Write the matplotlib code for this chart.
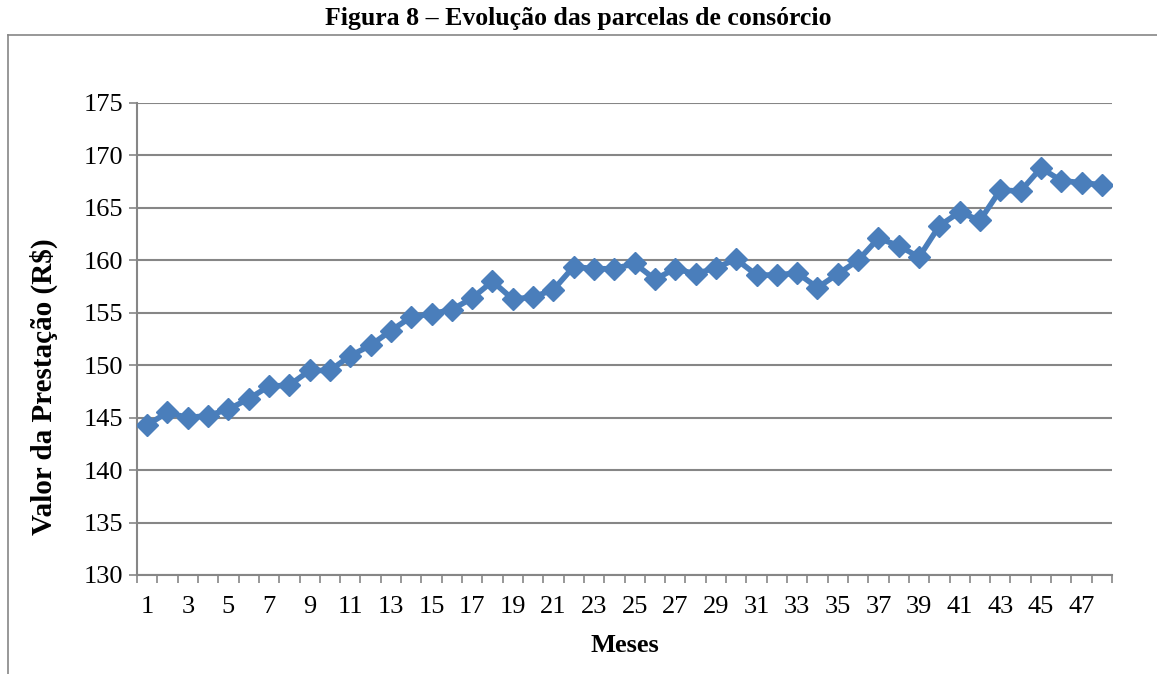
import matplotlib
matplotlib.use('Agg')
import matplotlib.pyplot as plt
from matplotlib.lines import Line2D
from matplotlib.ticker import MultipleLocator, FixedLocator

# dados
meses = list(range(1, 49))
valores = [144.3, 145.5, 145.0, 145.2, 145.8, 146.8, 148.0, 148.1, 149.5, 149.5,
           150.9, 151.9, 153.3, 154.6, 154.9, 155.3, 156.4, 158.0, 156.3, 156.5,
           157.2, 159.4, 159.2, 159.2, 159.7, 158.2, 159.2, 158.7, 159.3, 160.1,
           158.6, 158.6, 158.8, 157.4, 158.7, 160.0, 162.1, 161.4, 160.3, 163.3,
           164.6, 163.8, 166.7, 166.6, 168.8, 167.6, 167.4, 167.2]
rotulos_x = [str(m) for m in meses[::2]]

plt.rcParams['font.family'] = ['Liberation Serif', 'DejaVu Serif']

fig = plt.figure(figsize=(11.57, 6.74), dpi=100, facecolor='w')
ax = fig.add_axes([137/1157, 1-575/674, (1112-137)/1157, (575-103)/674])

cinza = '#868686'
ax.plot(meses, valores, color='#4A7EBB', lw=4, marker='D', ms=11,
        markerfacecolor='#4A7EBB', markeredgecolor='#4A7EBB', zorder=3)

ax.set_xlim(0.5, 48.5)
ax.set_ylim(130, 175)
ax.yaxis.set_major_locator(MultipleLocator(5))
ax.grid(axis='y', color=cinza, lw=1.5)
ax.set_axisbelow(True)

ax.set_xticks(meses[::2])
ax.set_xticklabels(rotulos_x)
ax.xaxis.set_minor_locator(FixedLocator([m + 0.5 for m in range(0, 49)]))
ax.tick_params(axis='x', which='major', length=0, labelsize=19, pad=15)
ax.tick_params(axis='x', which='minor', length=6, width=1.2, color=cinza, direction='out')
ax.tick_params(axis='y', length=6, width=1.2, color=cinza, labelsize=19, pad=4)

for s in ['top', 'right']:
    ax.spines[s].set_visible(False)
for s in ['left', 'bottom']:
    ax.spines[s].set_color(cinza)
    ax.spines[s].set_linewidth(1.5)

ax.set_ylabel('Valor da Prestação (R$)', fontsize=21, fontweight='bold')
ax.yaxis.set_label_coords(-0.081, 0.40)
ax.set_xlabel('Meses', fontsize=19, fontweight='bold', labelpad=12)

fig.text(0.5, 1-18/674, 'Figura 8 – Evolução das parcelas de consórcio',
         ha='center', va='center', fontsize=18.5, fontweight='bold')

# moldura
fig.add_artist(Line2D([8/1157, 8/1157], [0, 1-35/674], color=cinza, lw=1.2))
fig.add_artist(Line2D([8/1157, 1], [1-35/674, 1-35/674], color=cinza, lw=1.2))

plt.savefig('out.png', dpi=100, facecolor='w')
plt.close()
